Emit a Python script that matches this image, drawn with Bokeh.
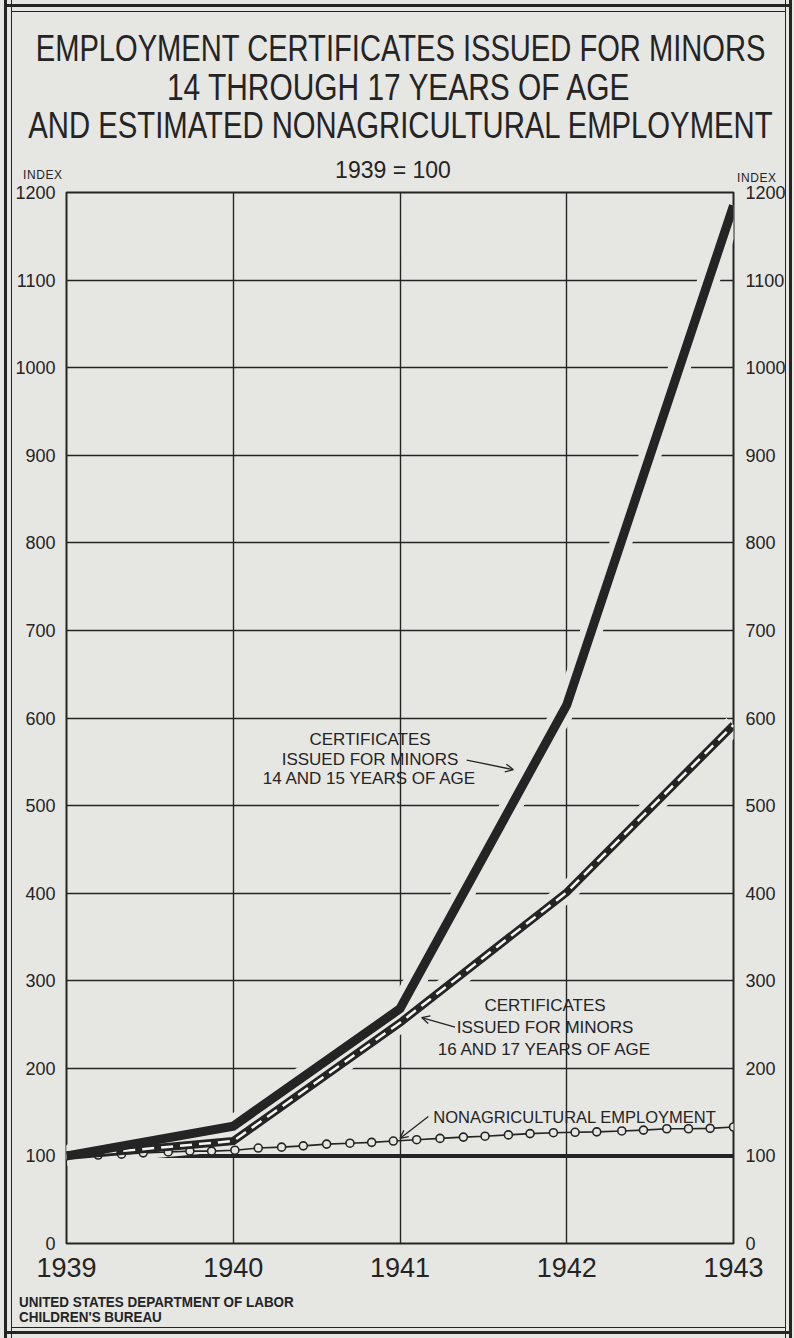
from bokeh.plotting import figure
from bokeh.layouts import column
from bokeh.models import (Range1d, LinearAxis, FixedTicker, Label, Div,
                          Span, Arrow, OpenHead, ColumnDataSource)
from bokeh.embed import file_html
from bokeh.resources import INLINE

# ---------------- data ----------------
years = [1939, 1940, 1941, 1942, 1943]
certs_14_15 = [100, 134, 268, 615, 1185]
certs_16_17 = [100, 117, 252, 401, 592]
nonag_x = [1939.0, 1939.19, 1939.33, 1939.46, 1939.61, 1939.74, 1939.87, 1940.01,
           1940.15, 1940.29, 1940.42, 1940.56, 1940.70, 1940.83, 1940.96, 1941.10,
           1941.24, 1941.38, 1941.51, 1941.65, 1941.78, 1941.92, 1942.05, 1942.18,
           1942.33, 1942.46, 1942.60, 1942.73, 1942.86, 1943.0]
nonag_y = [100, 101, 102, 103.5, 104.5, 105.5, 105.5, 106.5,
           109, 110, 111.5, 113.5, 114.5, 115.5, 117, 118.5,
           120, 121.5, 122.5, 124, 125.5, 126.5, 127, 127.5,
           128.5, 129.5, 131, 131, 131.5, 133]
y_ticks = list(range(0, 1201, 100))
x_ticks = years

title_lines = ["EMPLOYMENT CERTIFICATES ISSUED FOR MINORS",
               "14 THROUGH 17 YEARS OF AGE",
               "AND ESTIMATED NONAGRICULTURAL EMPLOYMENT"]
subtitle = "1939 = 100"
axis_unit = "INDEX"
source_lines = ["UNITED STATES DEPARTMENT OF LABOR", "CHILDREN'S BUREAU"]

BG = "#e6e6e3"
INK = "#242424"
SANS = "Liberation Sans, Arial, sans-serif"

W, H = 794, 1338
HEAD_H = 184
FOOT_H = 48
FIG_H = H - HEAD_H - FOOT_H
FRAME_L, FRAME_R, FRAME_T, FRAME_B = 66, 733, 192, 1243

# ---------------- header ----------------
def abs_text(text, cx, cy, size, scale=1.0, weight="normal", align="center",
             spacing=0):
    lh = 0.8 * size
    top = cy - lh / 2 + 0.018 * size
    if align == "center":
        pos = f"left:{cx - 1000}px;width:2000px;text-align:center;"
        origin = "center"
    else:
        pos = f"left:{cx}px;"
        origin = "left"
    return (f'<div style="position:absolute;top:{top:.1f}px;{pos}'
            f'font-family:{SANS};font-size:{size}px;line-height:{lh:.1f}px;'
            f'font-weight:{weight};color:{INK};letter-spacing:{spacing}px;'
            f'white-space:nowrap;">'
            f'<span style="display:inline-block;transform:scaleX({scale});'
            f'transform-origin:{origin};">{text}</span></div>')

def hline(x0, x1, y, w):
    return (f'<div style="position:absolute;left:{x0}px;top:{y}px;'
            f'width:{x1 - x0}px;height:{w}px;background:{INK};"></div>')

head_html = (f'<div style="position:relative;width:{W}px;height:{HEAD_H}px;'
             f'overflow:hidden;">'
             + hline(4, 792, 4, 3) + hline(11, 786, 11, 1.4)
             + abs_text(title_lines[0], 401, 48.5, 37, scale=0.787)
             + abs_text(title_lines[1], 398, 87, 37, scale=0.808)
             + abs_text(title_lines[2], 400, 125, 37, scale=0.791)
             + abs_text(subtitle, 393, 170, 23)
             + abs_text(axis_unit, 23, 176, 12, align="left", spacing=0.6)
             + abs_text(axis_unit, 737, 178.5, 12, align="left", spacing=0.6)
             + '</div>')
header = Div(text=head_html, width=W, height=HEAD_H, margin=0)

FOOT_Y = H - FOOT_H
foot_html = (f'<div style="position:relative;width:{W}px;height:{FOOT_H}px;'
             f'overflow:hidden;">'
             + abs_text(source_lines[0], 19, 1302 - FOOT_Y, 14, scale=0.96,
                        weight="bold", align="left")
             + abs_text(source_lines[1], 19, 1317 - FOOT_Y, 14, scale=0.96,
                        weight="bold", align="left")
             + hline(11, 786, 1327 - FOOT_Y, 1.4)
             + hline(4, 792, 1331 - FOOT_Y, 3)
             + '</div>')
footer = Div(text=foot_html, width=W, height=FOOT_H, margin=0)

# ---------------- figure ----------------
p = figure(width=W, height=FIG_H, output_backend="svg", toolbar_location=None,
           x_range=Range1d(1939, 1943), y_range=Range1d(0, 1200),
           min_border_left=FRAME_L, min_border_right=W - FRAME_R,
           min_border_top=FRAME_T - HEAD_H,
           min_border_bottom=(HEAD_H + FIG_H) - FRAME_B, margin=0)
p.background_fill_color = BG
p.border_fill_color = None
p.outline_line_color = INK
p.outline_line_width = 2

p.yaxis.ticker = FixedTicker(ticks=y_ticks)
p.xaxis.ticker = FixedTicker(ticks=x_ticks)
for ax in (p.yaxis[0], p.xaxis[0]):
    ax.axis_line_color = None
    ax.major_tick_line_color = None
    ax.minor_tick_line_color = None
    ax.major_label_text_color = INK
    ax.major_label_text_font = SANS
p.yaxis.major_label_text_font_size = "18px"
p.yaxis.major_label_standoff = 5
p.xaxis.major_label_text_font_size = "27px"
p.xaxis.major_label_standoff = 8

ry = LinearAxis(ticker=FixedTicker(ticks=y_ticks))
ry.axis_line_color = None
ry.major_tick_line_color = None
ry.minor_tick_line_color = None
ry.major_label_text_color = INK
ry.major_label_text_font = SANS
ry.major_label_text_font_size = "18px"
ry.major_label_standoff = 6
p.add_layout(ry, "right")

p.xgrid.ticker = FixedTicker(ticks=x_ticks)
p.ygrid.ticker = FixedTicker(ticks=y_ticks)
for g in (p.xgrid[0], p.ygrid[0]):
    g.grid_line_color = INK
    g.grid_line_width = 1.4

# heavy rule at the 1939 base (100)
p.add_layout(Span(location=100, dimension="width", line_color=INK,
                  line_width=4, level="underlay"))

src = ColumnDataSource(dict(x=years, a=certs_14_15, b=certs_16_17))
nsrc = ColumnDataSource(dict(x=nonag_x, y=nonag_y))

# halos that break the grid around the heavy curves
p.line("x", "a", source=src, line_color=BG, line_width=22)
p.line("x", "b", source=src, line_color=BG, line_width=20)

# nonagricultural employment
p.line("x", "y", source=nsrc, line_color=INK, line_width=1.6)
p.scatter("x", "y", source=nsrc, marker="circle", size=8, fill_color=BG,
          line_color=INK, line_width=1.6)

# 16-17 years: black band with white dashes
p.line("x", "b", source=src, line_color=INK, line_width=8, line_join="miter")
p.line("x", "b", source=src, line_color="#f6f6f4", line_width=2.5,
       line_dash="12 7")
# 14-15 years: solid heavy band
p.line("x", "a", source=src, line_color=INK, line_width=9, line_join="miter")

def dlabel(text, x, y, size="17px", align="center"):
    p.add_layout(Label(x=x, y=y, text=text, text_font=SANS,
                       text_font_size=size, text_align=align,
                       text_baseline="middle", text_color=INK))

dlabel("CERTIFICATES", 1940.82, 575)
dlabel("ISSUED FOR MINORS", 1940.82, 553)
dlabel("14 AND 15 YEARS OF AGE", 1940.82, 531)
dlabel("CERTIFICATES", 1941.87, 272)
dlabel("ISSUED FOR MINORS", 1941.87, 247)
dlabel("16 AND 17 YEARS OF AGE", 1941.87, 221)
dlabel("NONAGRICULTURAL  EMPLOYMENT", 1941.20, 144, size="16.5px", align="left")

def arrow(x0, y0, x1, y1):
    p.add_layout(Arrow(x_start=x0, y_start=y0, x_end=x1, y_end=y1,
                       line_color=INK, line_width=1.3,
                       end=OpenHead(size=8, line_color=INK, line_width=1.3)))

arrow(1941.40, 552, 1941.68, 541)
arrow(1941.33, 247, 1941.13, 258)
arrow(1941.17, 145, 1941.00, 120)

# page with double rule (vertical rules drawn as background stripes)
stripes = (f"linear-gradient(to right, {BG} 0px, {BG} 4px, {INK} 4px, {INK} 7px, "
           f"{BG} 7px, {BG} 11px, {INK} 11px, {INK} 12.4px, {BG} 12.4px, "
           f"{BG} 784.6px, {INK} 784.6px, {INK} 786px, {BG} 786px, {BG} 789px, "
           f"{INK} 789px, {INK} 792px, {BG} 792px)")
page = column(header, p, footer, width=W, height=H, spacing=0, margin=0,
              styles={"background-color": BG, "background-image": stripes})

open("out.html", "w").write(file_html(page, INLINE))
